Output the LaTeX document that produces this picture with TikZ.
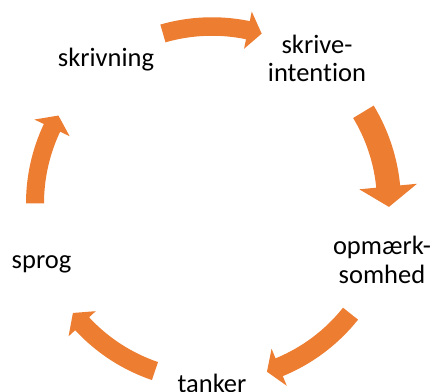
\documentclass[tikz,border=0pt]{standalone}
\usepackage{fontspec}
\setmainfont{Carlito}[Ligatures={NoCommon}]
\definecolor{arroworange}{RGB}{237,125,49}
\newcommand{\cycarrow}[5]{% #1 tail angle, #2 head-back angle, #3 tip angle, #4 half body width, #5 half head width
  \fill[cyc] (#1:{177+#4}) arc[start angle=#1, end angle=#2, radius={177+#4}]
    -- (#2:{177+#5}) -- (#3:177) -- (#2:{177-#5}) -- (#2:{177-#4})
    arc[start angle=#2, end angle=#1, radius={177-#4}] -- cycle;}
\begin{document}
\begin{tikzpicture}[x=1pt,y=1pt,
  lbl/.style={font=\fontsize{26.5}{28.8}\selectfont, inner sep=0pt, align=center, anchor=base},
  cyc/.style={fill=arroworange, draw=none}]
\useasboundingbox (0,0) rectangle (433,391);
\clip (0,0) rectangle (433,391);
\node[lbl] (skrivning) at (106,324) {skrivning};
\node[lbl] (intention) at (317,309) {skrive-\\intention};
\node[lbl] (opmaerk) at (382,108) {opmærk-\\somhed};
\node[lbl] (tanker) at (212,-1) {tanker};
\node[lbl] (sprog) at (41.5,123) {sprog};
\begin{scope}[shift={(212,187.5)}]
  \cycarrow{106.1}{78.3}{73.7}{9.25}{19}
  \cycarrow{31.2}{5.5}{-1.1}{12}{29}
  \cycarrow{-38.5}{-67.7}{-71.9}{9.6}{20}
  \cycarrow{-108.8}{-137.2}{-141.8}{9.5}{18.5}
  \cycarrow{180}{154.7}{150.2}{9}{19.5}
\end{scope}
\end{tikzpicture}
\end{document}
